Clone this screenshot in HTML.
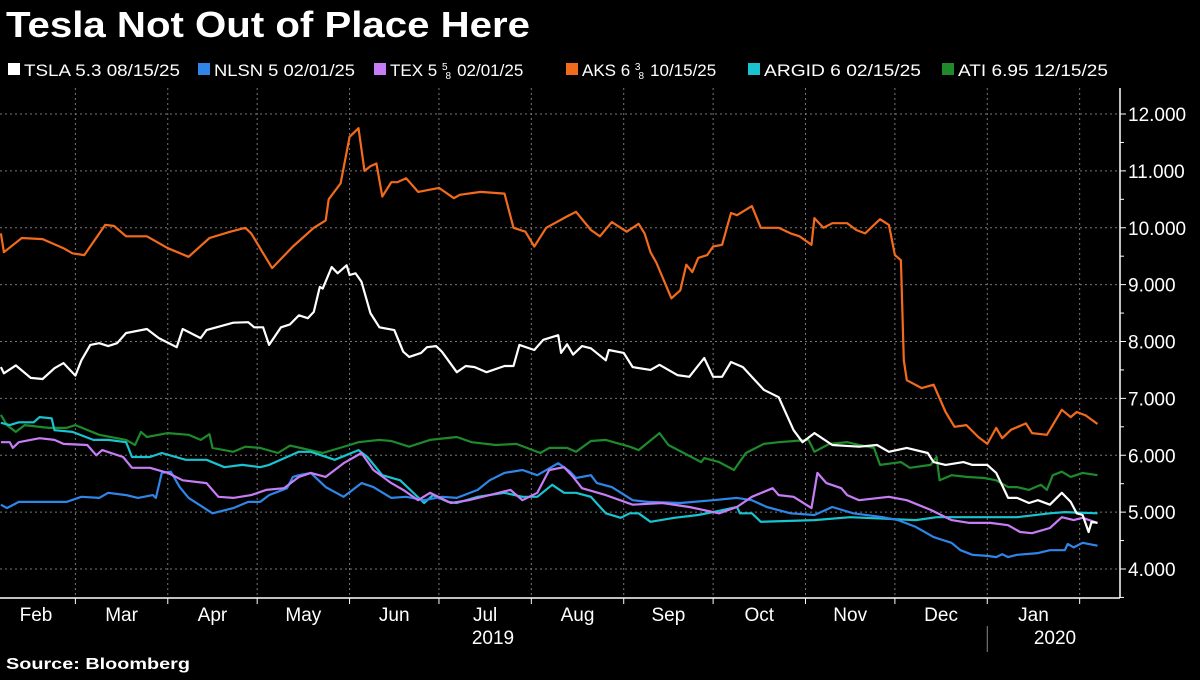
<!DOCTYPE html>
<html><head><meta charset="utf-8">
<style>
html,body{margin:0;padding:0;background:#000;}
body{width:1200px;height:675px;overflow:hidden;font-family:"Liberation Sans",sans-serif;color:#fff;}
</style></head>
<body>
<svg id="chart" width="1200" height="675" xmlns="http://www.w3.org/2000/svg">
<rect width="1200" height="675" fill="#000"/>
<text x="6" y="37" font-size="36" font-weight="bold" fill="#fff" font-family="Liberation Sans, sans-serif" textLength="524" lengthAdjust="spacingAndGlyphs">Tesla Not Out of Place Here</text>
<g id="legend" font-size="17" fill="#fff" font-family="Liberation Sans, sans-serif">
  <g><rect x="8" y="63" width="12" height="12" fill="#ffffff"/><text x="24" y="76" textLength="156" lengthAdjust="spacingAndGlyphs">TSLA 5.3 08/15/25</text></g>
  <g><rect x="198" y="63" width="12" height="12" fill="#2f86e8"/><text x="214" y="76" textLength="141" lengthAdjust="spacingAndGlyphs">NLSN 5 02/01/25</text></g>
  <g><rect x="374" y="63" width="12" height="12" fill="#c77df5"/><text x="390" y="76">TEX 5 <tspan font-size="10" dy="-6">5</tspan><tspan font-size="10" dy="9" dx="-2">8</tspan><tspan dy="-3" dx="6">02/01/25</tspan></text></g>
  <g><rect x="566" y="63" width="12" height="12" fill="#f26b1d"/><text x="582" y="76">AKS 6 <tspan font-size="10" dy="-6">3</tspan><tspan font-size="10" dy="9" dx="-2">8</tspan><tspan dy="-3" dx="6">10/15/25</tspan></text></g>
  <g><rect x="748" y="63" width="12" height="12" fill="#19c4d0"/><text x="764" y="76" textLength="157" lengthAdjust="spacingAndGlyphs">ARGID 6 02/15/25</text></g>
  <g><rect x="942" y="63" width="12" height="12" fill="#1e8a2b"/><text x="958" y="76" textLength="150" lengthAdjust="spacingAndGlyphs">ATI 6.95 12/15/25</text></g>
</g>
<g id="grid"></g>
<g id="axes"></g>
<g id="series"></g>
<text x="6" y="669" font-size="16" font-weight="bold" fill="#fff" font-family="Liberation Sans, sans-serif" textLength="184" lengthAdjust="spacingAndGlyphs">Source: Bloomberg</text>
</svg>
<script>
// Day offsets since 2019-02-01 and values
const monthLabels = ["Feb","Mar","Apr","May","Jun","Jul","Aug","Sep","Oct","Nov","Dec","Jan"];
const monthStartDays = [0,28,59,89,120,150,181,212,242,273,303,334,365];
const yTicks = [4,5,6,7,8,9,10,11,12];
const yTickLabels = ["4.000","5.000","6.000","7.000","8.000","9.000","10.000","11.000","12.000"];

const tslaDays = [3,4,8,13,17,21,24,28,30,33,36,39,42,45,52,56,62,64,70,72,81,86,88,91,93,97,100,103,106,108,110,111,114,116,119,120,122,124,127,130,135,138,140,144,146,149,151,156,159,162,166,172,175,177,182,185,190,191,193,195,198,201,206,207,212,215,221,224,230,234,239,242,245,248,252,259,264,269,272,276,282,291,297,301,307,314,316,320,326,329,334,337,341,344,348,351,355,359,362,364,366,368,369,371];
const tslaVals = [7.55,7.44,7.58,7.36,7.34,7.53,7.62,7.4,7.67,7.94,7.97,7.92,7.97,8.15,8.22,8.06,7.9,8.22,8.06,8.2,8.33,8.34,8.25,8.25,7.94,8.25,8.3,8.46,8.41,8.52,8.96,8.93,9.31,9.2,9.34,9.17,9.2,9.05,8.5,8.25,8.2,7.82,7.73,7.8,7.9,7.92,7.82,7.46,7.57,7.55,7.46,7.57,7.57,7.94,7.85,8.03,8.11,7.8,7.95,7.77,7.92,7.88,7.67,7.85,7.8,7.55,7.5,7.59,7.41,7.38,7.71,7.38,7.38,7.64,7.55,7.15,7.02,6.44,6.23,6.39,6.18,6.15,6.18,6.06,6.13,6.04,5.88,5.83,5.88,5.83,5.83,5.69,5.25,5.25,5.16,5.21,5.13,5.34,5.18,4.98,4.95,4.65,4.83,4.81];

const nlsnDays = [3,5,9,16,25,30,36,39,45,49,54,55,57,60,63,66,74,81,86,90,93,99,101,103,107,112,118,124,128,134,139,145,151,156,163,167,172,178,183,190,194,196,201,203,208,215,220,231,242,250,255,260,268,276,282,289,299,304,310,316,319,322,325,329,334,337,339,341,344,351,355,360,361,363,366,371];
const nlsnVals = [5.13,5.07,5.18,5.18,5.18,5.27,5.25,5.34,5.3,5.25,5.3,5.25,5.69,5.71,5.44,5.25,4.98,5.07,5.18,5.18,5.3,5.42,5.62,5.65,5.69,5.44,5.27,5.51,5.44,5.25,5.27,5.21,5.27,5.25,5.39,5.56,5.69,5.74,5.65,5.86,5.71,5.6,5.65,5.51,5.44,5.21,5.18,5.16,5.21,5.25,5.21,5.09,4.98,4.95,5.09,4.98,4.91,4.86,4.74,4.56,4.51,4.46,4.33,4.25,4.23,4.21,4.26,4.21,4.25,4.28,4.33,4.33,4.44,4.38,4.46,4.41];

const texDays = [3,6,7,9,16,21,24,32,35,37,44,47,53,59,64,72,76,81,87,92,98,103,107,112,118,124,128,134,138,143,147,154,160,167,174,178,183,187,192,195,198,206,215,225,234,244,250,255,262,264,269,275,277,280,285,287,291,301,307,315,322,328,335,341,345,349,355,359,363,366,371];
const texVals = [6.23,6.23,6.13,6.23,6.3,6.27,6.2,6.18,6.0,6.09,5.97,5.78,5.78,5.69,5.56,5.51,5.27,5.25,5.3,5.39,5.42,5.62,5.69,5.62,5.86,6.04,5.74,5.51,5.39,5.21,5.34,5.16,5.21,5.3,5.39,5.21,5.34,5.74,5.79,5.62,5.42,5.3,5.13,5.16,5.09,4.98,5.09,5.27,5.42,5.3,5.27,5.07,5.69,5.51,5.42,5.3,5.21,5.27,5.21,5.04,4.86,4.81,4.81,4.77,4.65,4.63,4.72,4.91,4.86,4.9,4.81];

const aksDays = [3,4,10,17,24,27,31,38,41,45,52,59,66,73,80,85,87,94,101,108,112,113,117,120,123,125,127,129,131,134,136,139,143,150,155,157,164,172,175,179,182,186,193,196,201,204,208,213,217,219,221,223,228,231,233,235,237,240,242,245,248,250,255,258,264,268,271,275,276,279,282,287,290,293,298,301,303,305,306,307,312,316,320,323,327,331,334,337,339,342,347,349,354,359,362,364,367,371];
const aksVals = [9.9,9.57,9.82,9.8,9.64,9.55,9.52,10.05,10.03,9.85,9.85,9.64,9.49,9.82,9.93,10.0,9.9,9.29,9.67,10.0,10.13,10.5,10.78,11.6,11.75,11.0,11.08,11.13,10.55,10.8,10.8,10.87,10.63,10.7,10.52,10.58,10.63,10.6,10.0,9.93,9.67,10.0,10.2,10.28,9.96,9.85,10.1,9.93,10.07,9.9,9.57,9.38,8.76,8.9,9.35,9.22,9.47,9.52,9.67,9.7,10.26,10.22,10.38,10.0,10.0,9.9,9.85,9.7,10.17,10.0,10.08,10.08,9.96,9.9,10.15,10.05,9.52,9.43,7.67,7.32,7.18,7.24,6.76,6.5,6.53,6.32,6.2,6.48,6.3,6.45,6.56,6.39,6.36,6.8,6.67,6.76,6.7,6.55];

const argidDays = [3,6,9,14,16,20,21,27,34,39,45,47,53,57,65,72,78,84,90,93,99,103,107,115,123,126,131,137,145,148,153,156,163,172,178,183,188,192,196,201,202,206,211,214,217,221,229,237,242,250,251,255,258,276,288,310,317,344,355,360,371];
const argidVals = [6.57,6.53,6.58,6.58,6.67,6.65,6.44,6.41,6.27,6.27,6.23,5.97,5.97,6.04,5.92,5.92,5.79,5.83,5.79,5.83,5.97,6.06,6.06,5.92,6.09,5.97,5.65,5.56,5.16,5.3,5.18,5.16,5.27,5.34,5.27,5.27,5.48,5.34,5.34,5.27,5.21,4.98,4.9,4.98,4.98,4.83,4.9,4.95,5.0,5.09,4.98,4.98,4.83,4.86,4.91,4.86,4.91,4.91,4.98,5.0,4.98];

const atiDays = [3,5,8,11,19,25,28,36,45,48,50,52,59,66,70,73,74,81,85,90,96,100,111,120,123,130,134,140,147,156,161,169,176,184,187,193,196,201,206,214,217,224,227,238,239,244,249,253,259,264,274,276,281,287,291,296,298,305,308,315,317,318,322,327,333,337,341,344,348,352,354,356,359,362,366,371];
const atiVals = [6.71,6.53,6.41,6.53,6.48,6.48,6.53,6.36,6.27,6.18,6.41,6.32,6.39,6.36,6.27,6.37,6.13,6.06,6.15,6.13,6.04,6.17,6.04,6.18,6.23,6.27,6.25,6.15,6.27,6.32,6.23,6.18,6.2,6.04,6.13,6.13,6.06,6.25,6.27,6.15,6.09,6.39,6.18,5.88,5.95,5.88,5.74,6.04,6.2,6.23,6.27,6.06,6.2,6.23,6.18,6.13,5.83,5.88,5.78,5.83,5.97,5.56,5.65,5.62,5.6,5.56,5.44,5.44,5.39,5.48,5.39,5.65,5.71,5.62,5.69,5.65];

const NS = "http://www.w3.org/2000/svg";
const PLOT_L = 0, PLOT_R = 1120, PLOT_T = 88, PLOT_B = 598;
function xScale(d){ return (d - 2.7) * 2.98; }
function yScale(v){ return 569 - (v - 4) * 56.875; }
function mk(tag, attrs, parent){ const e = document.createElementNS(NS, tag); for (const k in attrs) e.setAttribute(k, attrs[k]); parent.appendChild(e); return e; }

const grid = document.getElementById('grid');
const axes = document.getElementById('axes');
const series = document.getElementById('series');

yTicks.forEach((v, i) => {
  const y = yScale(v);
  const l = mk('line', {x1: PLOT_L, x2: PLOT_R, y1: y, y2: y, stroke: '#777', 'stroke-width': 1, 'stroke-dasharray': '2,3'}, grid);
  
  
  const t = mk('line', {x1: PLOT_R, x2: PLOT_R + 6, y1: y, y2: y, stroke: '#fff', 'stroke-width': 1}, axes);
  
  
  const tx = mk('text', {x: PLOT_R + 8, y: y + 7, fill: '#fff', 'font-size': 19, 'font-family': 'Liberation Sans, sans-serif'}, axes);
  tx.textContent = yTickLabels[i];
  
  
  if (i < yTicks.length - 1) {
    const ym = yScale(v + 0.5);
    const mt = mk('line', {x1: PLOT_R, x2: PLOT_R + 4, y1: ym, y2: ym, stroke: '#fff', 'stroke-width': 1}, axes);
    
    
  }
});
{
  const ym = yScale(3.5);
  const mt = mk('line', {x1: PLOT_R, x2: PLOT_R + 4, y1: ym, y2: ym, stroke: '#fff', 'stroke-width': 1}, axes);
  
  
}

monthStartDays.forEach((d, i) => {
  const x = xScale(d);
  if (i > 0) {
    const g = mk('line', {x1: x, x2: x, y1: PLOT_T, y2: PLOT_B, stroke: '#777', 'stroke-width': 1, 'stroke-dasharray': '2,3'}, grid);
    
    
    const t = mk('line', {x1: x, x2: x, y1: PLOT_B, y2: PLOT_B + 6, stroke: '#fff', 'stroke-width': 1}, axes);
    
    
  }
  if (i < monthLabels.length) {
    const cx = (Math.max(xScale(d), 0) + xScale(monthStartDays[i + 1])) / 2;
    const tx = mk('text', {x: i === 0 ? 36 : cx, y: 621, fill: '#fff', 'font-size': 19, 'text-anchor': 'middle', 'font-family': 'Liberation Sans, sans-serif'}, axes);
    tx.textContent = monthLabels[i];
    
    
  }
});
{
  const xa = mk('line', {x1: 0, x2: PLOT_R, y1: PLOT_B, y2: PLOT_B, stroke: '#fff', 'stroke-width': 1.5}, axes);
  
  
  const ya = mk('line', {x1: PLOT_R, x2: PLOT_R, y1: PLOT_T, y2: PLOT_B, stroke: '#fff', 'stroke-width': 1.5}, axes);
  
  
  const y19 = mk('text', {x: 493, y: 644, fill: '#fff', 'font-size': 19, 'text-anchor': 'middle', 'font-family': 'Liberation Sans, sans-serif'}, axes);
  y19.textContent = '2019';
  
  
  const y20 = mk('text', {x: 1055, y: 644, fill: '#fff', 'font-size': 19, 'text-anchor': 'middle', 'font-family': 'Liberation Sans, sans-serif'}, axes);
  y20.textContent = '2020';
  
  
  const sx = xScale(monthStartDays[11]);
  const sep = mk('line', {x1: sx, x2: sx, y1: 626, y2: 652, stroke: '#888', 'stroke-width': 1}, axes);
  
  
}

function drawLine(days, vals, color, name) {
  const n = Math.min(days.length, vals.length);
  let d = '';
  for (let i = 0; i < n; i++) d += (i ? 'L' : 'M') + xScale(days[i]).toFixed(1) + ',' + yScale(vals[i]).toFixed(1);
  const p = mk('path', {d: d, fill: 'none', stroke: color, 'stroke-width': 2.2, 'stroke-linejoin': 'round'}, series);
  
  
}
drawLine(aksDays, aksVals, '#f26b1d', 'aks-line');
drawLine(atiDays, atiVals, '#1e8a2b', 'ati-line');
drawLine(argidDays, argidVals, '#19c4d0', 'argid-line');
drawLine(nlsnDays, nlsnVals, '#2f86e8', 'nlsn-line');
drawLine(texDays, texVals, '#c77df5', 'tex-line');
drawLine(tslaDays, tslaVals, '#ffffff', 'tsla-line');
</script>
</body></html>
